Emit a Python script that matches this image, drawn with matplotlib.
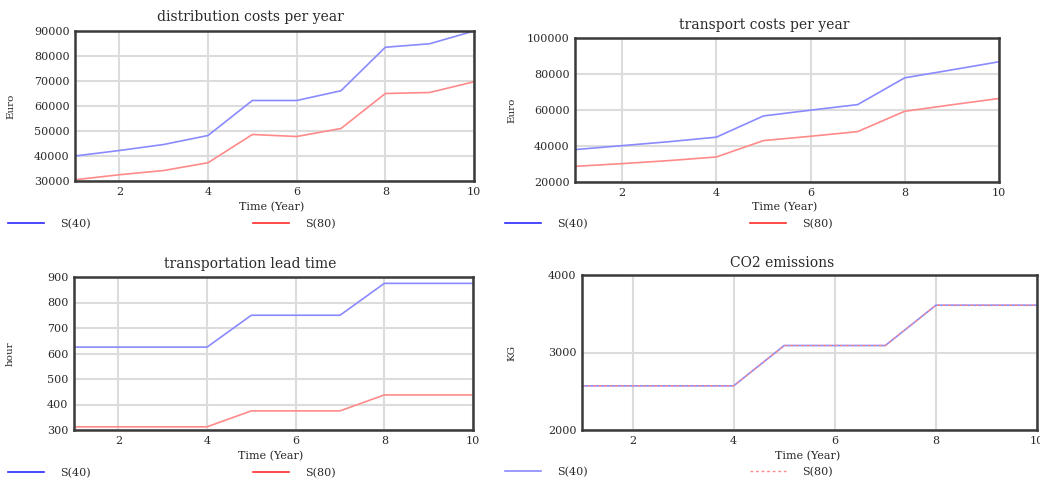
import matplotlib
matplotlib.use("Agg")
import matplotlib.pyplot as plt

plt.rcParams['font.family'] = ['DejaVu Serif', 'Liberation Serif']

years = [1, 2, 3, 4, 5, 6, 7, 8, 9, 10]

# distribution costs per year (Euro)
dist_s40 = [40000, 42200, 44600, 48200, 62200, 62200, 66100, 83500, 84900, 90000]
dist_s80 = [30500, 32500, 34200, 37300, 48600, 47800, 51000, 65000, 65400, 69700]

# transport costs per year (Euro)
trans_s40 = [38000, 40200, 42400, 44900, 56700, 59900, 63000, 77900, 82300, 86800]
trans_s80 = [28700, 30200, 31900, 33900, 43000, 45400, 48000, 59300, 62900, 66400]

# transportation lead time (hour)
lead_s40 = [625, 625, 625, 625, 750, 750, 750, 875, 875, 875]
lead_s80 = [312.5, 312.5, 312.5, 312.5, 375, 375, 375, 437.5, 437.5, 437.5]

# CO2 emissions (KG)
co2_s40 = [2570, 2570, 2570, 2570, 3090, 3090, 3090, 3610, 3610, 3610]
co2_s80 = [2570, 2570, 2570, 2570, 3090, 3090, 3090, 3610, 3610, 3610]

series_names = ['S(40)', 'S(80)']

W, H = 1040, 480
fig = plt.figure(figsize=(W / 100, H / 100), dpi=100)

LINE_BLUE = '#8a8aff'
LINE_RED = '#ff8a8a'
LEG_BLUE = '#2a2aff'
LEG_RED = '#ff2a2a'
TXT = '#2a2a2a'


def px_axes(left, top, right, bottom):
    return fig.add_axes([left / W, 1 - bottom / H, (right - left) / W, (bottom - top) / H])


def style(ax, ylim, yticks, ylabel, ylab_x):
    ax.set_xlim(1, 10)
    ax.set_ylim(*ylim)
    ax.set_xticks([2, 4, 6, 8, 10])
    ax.set_yticks(yticks)
    ax.grid(True, color='#dcdcdc', linewidth=1.5)
    ax.set_axisbelow(True)
    ax.tick_params(length=0, labelsize=8, pad=4, colors=TXT)
    for s in ax.spines.values():
        s.set_color('#3a3a3a')
        s.set_linewidth(1.8)
    ax.set_ylabel(ylabel, fontsize=7.5, color=TXT)
    ax.yaxis.set_label_coords(ylab_x, 0.5)


def legend(ax, x, y, dashed=False):
    leg = ax.legend(series_names, loc='center left', bbox_to_anchor=(x / W, 1 - y / H),
                    bbox_transform=fig.transFigure, ncol=2, frameon=False, fontsize=8,
                    handlelength=3.2, handletextpad=1.5, columnspacing=14.6,
                    borderpad=0, borderaxespad=0)
    for t in leg.get_texts():
        t.set_color(TXT)
    h = leg.legend_handles
    h[0].set_color(LEG_BLUE if not dashed else LINE_BLUE)
    h[1].set_color(LEG_RED if not dashed else LINE_RED)


def titles(cx, cy, title, lx, ly):
    fig.text(cx / W, 1 - cy / H, title, ha='center', va='center', fontsize=10, color=TXT)
    fig.text(lx / W, 1 - ly / H, 'Time (Year)', ha='center', va='center', fontsize=8, color=TXT)


# panel 1
ax1 = px_axes(75, 31, 474, 181)
ax1.plot(years, dist_s40, color=LINE_BLUE, lw=1.2)
ax1.plot(years, dist_s80, color=LINE_RED, lw=1.2)
style(ax1, (30000, 90000), range(30000, 90001, 10000), 'Euro', -0.15)
titles(250, 17, 'distribution costs per year', 272, 207)
legend(ax1, 8, 224)

# panel 2
ax2 = px_axes(575, 38, 999, 182)
ax2.plot(years, trans_s40, color=LINE_BLUE, lw=1.2)
ax2.plot(years, trans_s80, color=LINE_RED, lw=1.2)
style(ax2, (20000, 100000), range(20000, 100001, 20000), 'Euro', -0.139)
titles(764, 25, 'transport costs per year', 785, 207)
legend(ax2, 505, 224)

# panel 3
ax3 = px_axes(74, 277, 473, 430)
ax3.plot(years, lead_s40, color=LINE_BLUE, lw=1.2)
ax3.plot(years, lead_s80, color=LINE_RED, lw=1.2)
style(ax3, (300, 900), range(300, 901, 100), 'hour', -0.148)
titles(250, 264, 'transportation lead time', 271, 456)
legend(ax3, 8, 473)

# panel 4
ax4 = px_axes(582, 275, 1037, 430)
ax4.plot(years, co2_s40, color=LINE_BLUE, lw=1.2)
ax4.plot(years, co2_s80, color=LINE_RED, lw=1.0, linestyle=(0, (2, 2)))
style(ax4, (2000, 4000), [2000, 3000, 4000], 'KG', -0.145)
titles(782, 263, 'CO2 emissions', 808, 456)
legend(ax4, 505, 472, dashed=True)

fig.savefig('out.png', dpi=100)
